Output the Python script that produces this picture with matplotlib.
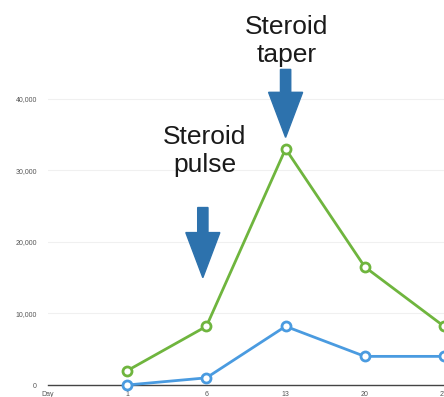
import matplotlib.pyplot as plt
import numpy as np
from matplotlib.patches import FancyArrow

plt.rcParams['font.family'] = ['Liberation Sans', 'DejaVu Sans']

days = ['Day', '1', '6', '13', '20', '27']
green_vals = [2000, 8200, 33000, 16500, 8200]
blue_vals = [0, 1000, 8200, 4000, 4000]
y_ticks = [0, 10000, 20000, 30000, 40000]

fig = plt.figure(figsize=(4.44, 3.97), dpi=100)
ax = fig.add_axes([48 / 444, 12 / 397, 1 - 48 / 444, 1 - 12 / 397])

x = np.arange(1, len(days))
ax.plot(x, green_vals, color='#6fb53e', lw=2, marker='o', ms=6.5,
        mfc='white', mec='#6fb53e', mew=2, clip_on=False, zorder=3)
ax.plot(x, blue_vals, color='#4a9be0', lw=2, marker='o', ms=6.5,
        mfc='white', mec='#4a9be0', mew=2, clip_on=False, zorder=4)

ax.set_xlim(0, 5)
ax.set_ylim(0, 53800)
ax.set_xticks(np.arange(len(days)))
ax.set_xticklabels(days, fontsize=5, color='#555555')
ax.set_yticks(y_ticks)
ax.set_yticklabels(['{:,}'.format(v) for v in y_ticks], fontsize=5, color='#555555')
ax.tick_params(length=0, pad=4)
ax.tick_params(axis='y', pad=8)

for s in ['top', 'right', 'left']:
    ax.spines[s].set_visible(False)
ax.spines['bottom'].set_color('#444444')
ax.spines['bottom'].set_linewidth(1)
ax.yaxis.grid(True, color='#f0f0f0', lw=0.8)
ax.set_axisbelow(True)

arrow_color = '#2d72ad'
# pulse arrow over day 6, taper arrow over day 13
ax.add_patch(FancyArrow(1.955, 24800, 0, -9800, width=0.13, head_width=0.43,
                        head_length=6300, length_includes_head=True,
                        color=arrow_color, clip_on=False, zorder=5))
ax.add_patch(FancyArrow(3.0, 44100, 0, -9500, width=0.13, head_width=0.43,
                        head_length=6300, length_includes_head=True,
                        color=arrow_color, clip_on=False, zorder=5))

fig.text(205 / 444, 1 - 151 / 397, 'Steroid\npulse', ha='center', va='center',
         fontsize=19, color='#1a1a1a')
fig.text(287 / 444, 1 - 41 / 397, 'Steroid\ntaper', ha='center', va='center',
         fontsize=19, color='#1a1a1a')

fig.savefig('out.png', dpi=100)
